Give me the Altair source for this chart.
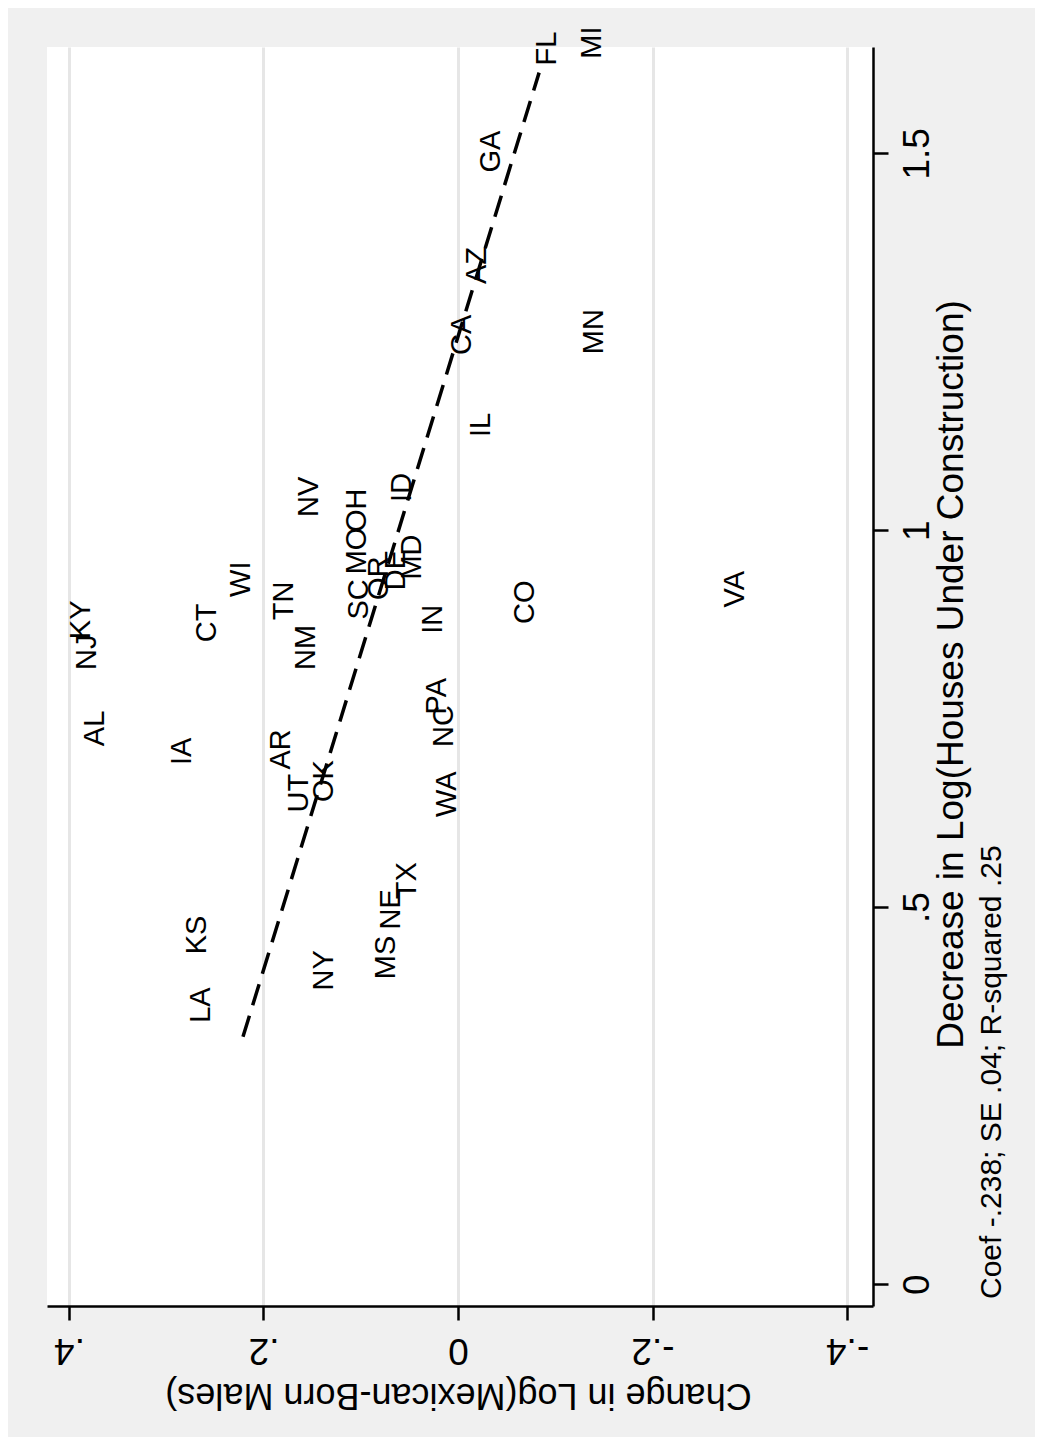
import altair as alt
import pandas as pd

# ---- data ----
states = ["NJ", "KY", "AL", "IA", "CT", "WI", "TN", "NM", "AR", "UT", "OK",
          "NV", "MO", "OH", "SC", "OR", "DE", "MD", "ID", "IN", "PA", "NC", "WA",
          "CO", "VA", "AZ", "CA", "IL", "MN", "GA", "FL", "MI",
          "KS", "LA", "NY", "MS", "NE", "TX"]
change_mex = [0.381, 0.388, 0.373, 0.284, 0.258, 0.223, 0.179, 0.156, 0.182, 0.164, 0.138,
              0.153, 0.104, 0.104, 0.102, 0.081, 0.064, 0.047, 0.058, 0.026, 0.022, 0.014, 0.011,
              -0.069, -0.285, -0.020, -0.004, -0.024, -0.140, -0.034, -0.092, -0.138,
              0.268, 0.264, 0.138, 0.074, 0.069, 0.052]
decrease_houses = [0.796, 0.837, 0.695, 0.670, 0.833, 0.893, 0.862, 0.796, 0.664, 0.607, 0.621,
                   0.999, 0.923, 0.979, 0.863, 0.889, 0.902, 0.916, 1.019, 0.844, 0.737, 0.694, 0.601,
                   0.857, 0.879, 1.308, 1.214, 1.105, 1.215, 1.456, 1.598, 1.607,
                   0.419, 0.328, 0.371, 0.386, 0.452, 0.492]

fit_decrease = [0.328, 1.607]
fit_change = [0.2211, -0.0834]

x_ticks = [-0.4, -0.2, 0, 0.2, 0.4]
y_ticks = [0, 0.5, 1, 1.5]

x_title = "Change in Log(Mexican-Born Males)"
y_title = "Decrease in Log(Houses Under Construction)"
note_text = "Coef -.238; SE .04; R-squared .25"

FONT = "Liberation Sans"

df = pd.DataFrame({"state": states, "change": change_mex, "decrease": decrease_houses})
fit_df = pd.DataFrame({"decrease": fit_decrease, "change": fit_change})
note_df = pd.DataFrame({"note": [note_text]})

x_scale = alt.Scale(domain=[-0.4267, 0.4226], reverse=True, nice=False, zero=False)
y_scale = alt.Scale(domain=[-0.029, 1.641], nice=False, zero=False)

x_axis = alt.Axis(
    orient="bottom", values=x_ticks,
    labelExpr="datum.value == 0 ? '0' : (datum.value < 0 ? '-' : '') + replace(format(abs(datum.value), '.1f'), '0.', '.')",
    labelAngle=180, labelAlign="center", labelBaseline="alphabetic", labelPadding=18,
    labelFontSize=37, labelFont=FONT, labelColor="black", labelFlush=False, labelOverlap=False,
    tickSize=14, tickWidth=2.5, tickColor="black",
    domainColor="black", domainWidth=2.5,
    grid=True, gridColor="#e6e6e6", gridWidth=3,
    title=x_title, titleAngle=180, titleAlign="center", titleBaseline="alphabetic",
    titleFont=FONT, titleFontSize=36, titleFontWeight="normal", titleColor="black",
    titleX=411, titleY=77,
)
y_axis = alt.Axis(
    orient="right", values=y_ticks,
    labelExpr="datum.value == 0 ? '0' : replace(format(datum.value, '~g'), '0.', '.')",
    labelAngle=270, labelAlign="center", labelBaseline="alphabetic", labelPadding=40,
    labelFontSize=37, labelFont=FONT, labelColor="black", labelFlush=False, labelOverlap=False,
    tickSize=15, tickWidth=2.5, tickColor="black",
    domainColor="black", domainWidth=2.5, grid=False,
    title=y_title, titleAngle=270, titleAlign="center", titleBaseline="alphabetic",
    titleFont=FONT, titleFontSize=37, titleFontWeight="normal", titleColor="black",
    titleX=89, titleY=627,
)

labels = alt.Chart(df).mark_text(
    angle=270, align="left", baseline="middle", dx=14,
    fontSize=29, font=FONT, color="black",
).encode(
    x=alt.X("change:Q", scale=x_scale, axis=x_axis),
    y=alt.Y("decrease:Q", scale=y_scale, axis=y_axis),
    text="state:N",
)

fit_line = alt.Chart(fit_df).mark_line(
    color="black", strokeWidth=3.5, strokeDash=[22, 11],
).encode(
    x=alt.X("change:Q", scale=x_scale),
    y=alt.Y("decrease:Q", scale=y_scale),
    order="decrease:Q",
)

note = alt.Chart(note_df).mark_text(
    angle=270, align="left", baseline="alphabetic",
    fontSize=30, font=FONT, color="black",
).encode(
    x=alt.value(954), y=alt.value(1252), text="note:N",
)

chart = alt.layer(fit_line, labels, note).properties(
    width=826, height=1259,
    autosize=alt.AutoSizeParams(type="none"),
    padding={"left": 39, "top": 39, "right": 162, "bottom": 131},
).configure(background="#f0f0f0").configure_view(fill="white", strokeWidth=0)

chart.save("out.html", embed_options={"renderer": "svg", "actions": False})
